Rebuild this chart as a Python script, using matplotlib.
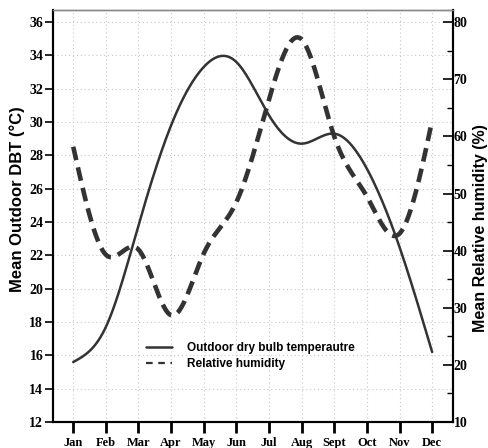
"""Monthly outdoor DBT and relative humidity, dual-axis smoothed lines."""

import matplotlib

matplotlib.use("Agg")

import matplotlib.pyplot as plt
import numpy as np
from matplotlib.ticker import MultipleLocator

months = ["Jan", "Feb", "Mar", "Apr", "May", "Jun", "Jul", "Aug", "Sept", "Oct", "Nov", "Dec"]
temp_dbt = [15.6, 17.7, 23.8, 29.8, 33.3, 33.6, 30.4, 28.7, 29.3, 27.2, 22.5, 16.2]
rel_humidity = [58.2, 39.3, 40.2, 28.7, 39.5, 48.5, 66.5, 77.0, 60.0, 49.5, 43.0, 62.8]

LINE_COLOR = "#333333"
SERIF = ["Liberation Serif", "DejaVu Serif"]
SANS = ["Liberation Sans", "DejaVu Sans"]


def natural_spline(y, samples=30):
    """Natural cubic spline through equally spaced points, for drawing."""
    y = np.asarray(y, dtype=float)
    n = len(y)
    a = np.zeros((n, n))
    rhs = np.zeros(n)
    a[0, 0] = a[-1, -1] = 1.0
    for i in range(1, n - 1):
        a[i, i - 1], a[i, i], a[i, i + 1] = 1.0, 4.0, 1.0
        rhs[i] = 6.0 * (y[i - 1] - 2 * y[i] + y[i + 1])
    m = np.linalg.solve(a, rhs)
    xs, ys = [], []
    for i in range(n - 1):
        t = np.linspace(0, 1, samples, endpoint=(i == n - 2))
        seg = (
            (1 - t) * y[i]
            + t * y[i + 1]
            + ((1 - t) ** 3 - (1 - t)) * m[i] / 6.0
            + (t**3 - t) * m[i + 1] / 6.0
        )
        xs.append(i + t)
        ys.append(seg)
    return np.concatenate(xs), np.concatenate(ys)


fig = plt.figure(figsize=(4.88, 4.48), dpi=100)
ax = fig.add_axes([0.1086, 0.058, 0.8197, 0.9197])
ax2 = ax.twinx()

x_pos = np.arange(len(months))
tx, ty = natural_spline(temp_dbt)
hx, hy = natural_spline(rel_humidity)

(temp_line,) = ax.plot(tx, ty, color=LINE_COLOR, linewidth=1.8, solid_capstyle="round",
                       label="Outdoor dry bulb temperautre")
(rh_line,) = ax2.plot(hx, hy, color=LINE_COLOR, linewidth=3.3, dashes=(3.0, 1.6),
                      label="Relative humidity")

ax.set_xlim(-0.62, 11.64)
ax.set_ylim(12, 36.72)
ax2.set_ylim(10, 82.15)

ax.set_xticks(x_pos)
ax.set_xticklabels(months)
ax.yaxis.set_major_locator(MultipleLocator(2))
ax2.yaxis.set_major_locator(MultipleLocator(10))
ax2.yaxis.set_minor_locator(MultipleLocator(5))

ax.grid(True, color="#c8c8c8", linestyle=(0, (1, 2.5)), linewidth=0.8)
ax.set_axisbelow(True)

ax.tick_params(axis="x", direction="out", length=8, width=2, pad=3, labelsize=9)
ax.tick_params(axis="y", direction="out", length=6, width=1.2, pad=1, labelsize=10)
ax2.tick_params(axis="y", which="major", direction="in", length=7, width=1.2, pad=0.5, labelsize=10)
ax2.tick_params(axis="y", which="minor", direction="in", length=4, width=1.0)

for label in ax.get_xticklabels() + ax.get_yticklabels() + ax2.get_yticklabels():
    label.set_fontfamily(SERIF)
    label.set_fontweight("bold")

for spine_ax in (ax, ax2):
    for side in ("left", "right", "bottom"):
        spine_ax.spines[side].set_linewidth(1.5)
        spine_ax.spines[side].set_color("black")
    spine_ax.spines["top"].set_color("#888888")
    spine_ax.spines["top"].set_linewidth(1.0)

ax.set_ylabel("Mean Outdoor DBT (°C)", fontsize=12, fontweight="bold", family=SANS)
ax.yaxis.set_label_coords(-0.07, 0.54)
ax2.set_ylabel("Mean Relative humidity (%)", fontsize=11.5, fontweight="bold", family=SANS)
ax2.yaxis.set_label_coords(1.05, 0.47)

legend = ax.legend(
    handles=[temp_line, rh_line],
    loc="upper left",
    bbox_to_anchor=(0.22, 0.205),
    frameon=False,
    handlelength=2.2,
    handletextpad=1.3,
    labelspacing=0.3,
    borderaxespad=0,
    prop={"family": SANS, "weight": "bold", "size": 8.5},
)
legend.get_lines()[1].set_linewidth(1.6)
legend.get_lines()[1].set_dashes((3.0, 2.5))

fig.savefig("out.png", dpi=100)
plt.close(fig)
